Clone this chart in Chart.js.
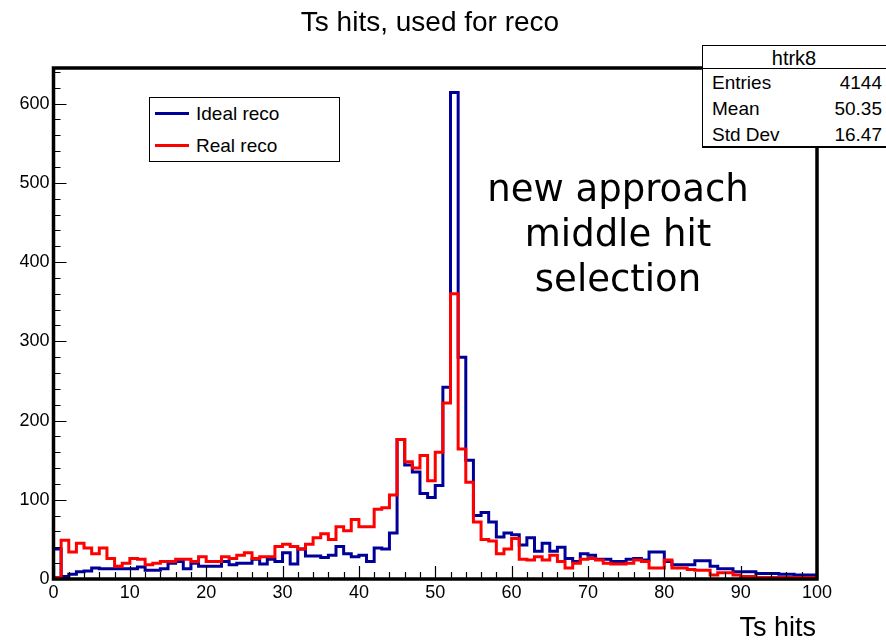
<!DOCTYPE html>
<html>
<head>
<meta charset="utf-8">
<script src="https://cdn.jsdelivr.net/npm/chart.js@4.4.1/dist/chart.umd.min.js"></script>
<style>
  body { margin: 0; background: #fff; }
  #wrap { position: relative; width: 886px; height: 643px; overflow: hidden; font-family: "Liberation Sans", Arial, sans-serif; }
  #wrap div { position: absolute; line-height: 1; white-space: nowrap; color: #000; }
  canvas { position: absolute; left: 0; top: 0; }
</style>
</head>
<body>
<div id="wrap">
  <canvas id="histChart" width="886" height="643"></canvas>

  <div style="left:0; width:860px; top:8px; font-size:28px; text-align:center;">Ts hits, used for reco</div>

  <div style="left:149px; top:97px; width:189px; height:63px; border:1px solid #000; background:#fff;"></div>
  <div style="left:155px; top:112px; width:34px; height:0; border-top:3px solid #000099;"></div>
  <div style="left:196px; top:104px; font-size:19px;">Ideal reco</div>
  <div style="left:155px; top:144px; width:34px; height:0; border-top:3px solid #ff0000;"></div>
  <div style="left:196px; top:136px; font-size:19px;">Real reco</div>

  <div style="left:702px; top:45px; width:190px; height:100px; border:1px solid #000; border-bottom-width:2px; background:#fff;"></div>
  <div style="left:702px; top:68px; width:190px; height:0; border-top:1px solid #000;"></div>
  <div style="left:702px; width:184px; top:48px; font-size:20px; text-align:center;">htrk8</div>
  <div style="left:712px; top:73px; font-size:19px;">Entries</div>
  <div style="right:4px; top:73px; font-size:19px;">4144</div>
  <div style="left:712px; top:99px; font-size:19px;">Mean</div>
  <div style="right:4px; top:99px; font-size:19px;">50.35</div>
  <div style="left:712px; top:125px; font-size:19px;">Std Dev</div>
  <div style="right:4px; top:125px; font-size:19px;">16.47</div>

  <div style="left:418px; width:400px; top:166px; font-family:'DejaVu Sans', sans-serif; font-size:37px; line-height:45px; text-align:center; white-space:normal;">new approach<br>middle hit<br>selection</div>

  <div style="right:70px; top:614px; font-size:27px;">Ts hits</div>
</div>

<script>
// 100 bins of width 1 from 0 to 100
var xMin = 0;
var xMax = 100;
var yMax = 645;

var idealReco = [
  38, 3, 6, 9, 10, 14, 13, 13, 13, 13,
  13, 15, 11, 11, 13, 20, 22, 13, 20, 16,
  16, 16, 22, 18, 20, 20, 25, 19, 25, 22,
  33, 19, 38, 29, 29, 27, 30, 41, 32, 28,
  30, 22, 39, 38, 58, 176, 144, 135, 108, 103,
  118, 242, 614, 280, 150, 80, 84, 72, 53, 58,
  56, 43, 52, 35, 45, 35, 40, 26, 22, 32,
  30, 25, 25, 22, 22, 25, 26, 24, 34, 34,
  22, 18, 18, 18, 23, 23, 16, 13, 13, 9,
  9, 9, 7, 7, 7, 6, 6, 5, 5, 5
];

var realReco = [
  2, 49, 34, 45, 39, 32, 39, 26, 16, 20,
  26, 25, 18, 20, 22, 22, 25, 25, 22, 28,
  22, 22, 28, 26, 30, 33, 26, 28, 28, 41,
  44, 41, 38, 44, 52, 57, 50, 66, 61, 75,
  66, 66, 88, 90, 106, 176, 148, 140, 156, 124,
  160, 222, 360, 164, 122, 72, 50, 48, 32, 38,
  51, 25, 24, 28, 24, 30, 22, 14, 20, 25,
  26, 24, 20, 19, 19, 20, 24, 22, 14, 14,
  24, 14, 14, 12, 11, 11, 5, 8, 8, 5,
  3, 3, 2, 2, 2, 2, 2, 2, 2, 2
];

// turn bin contents into an outline (ROOT "hist" style)
function toSteps(values) {
  var pts = [{ x: xMin, y: 0 }];
  for (var i = 0; i < values.length; i++) {
    pts.push({ x: xMin + i, y: values[i] });
  }
  pts.push({ x: xMin + values.length, y: values[values.length - 1] });
  pts.push({ x: xMin + values.length, y: 0 });
  return pts;
}

// frame with inward ticks, like a ROOT canvas
var frameTicks = {
  id: 'frameTicks',
  afterDatasetsDraw: function (chart) {
    var ctx = chart.ctx;
    var a = chart.chartArea;
    var x = chart.scales.x;
    var y = chart.scales.y;
    ctx.save();
    ctx.strokeStyle = '#000';
    ctx.lineWidth = 1.2;
    ctx.beginPath();
    for (var v = xMin; v <= xMax; v += 2) {
      var px = Math.round(x.getPixelForValue(v)) + 0.5;
      var len = v % 10 === 0 ? 13 : 7;
      ctx.moveTo(px, a.bottom);
      ctx.lineTo(px, a.bottom - len);
    }
    for (var w = 0; w <= yMax; w += 20) {
      var py = Math.round(y.getPixelForValue(w)) + 0.5;
      var len2 = w % 100 === 0 ? 13 : 7;
      ctx.moveTo(a.left, py);
      ctx.lineTo(a.left + len2, py);
    }
    ctx.stroke();
    ctx.lineWidth = 3.5;
    ctx.strokeRect(a.left, a.top, a.right - a.left, a.bottom - a.top);
    ctx.restore();
  }
};

var tickFont = { family: 'Liberation Sans', size: 18 };

var histChart = new Chart(document.getElementById('histChart'), {
  type: 'line',
  data: {
    datasets: [
      {
        label: 'Ideal reco',
        data: toSteps(idealReco),
        borderColor: 'rgb(0, 0, 153)',
        borderWidth: 3,
        stepped: true,
        pointRadius: 0,
        fill: false,
        order: 2
      },
      {
        label: 'Real reco',
        data: toSteps(realReco),
        borderColor: 'rgb(255, 0, 0)',
        borderWidth: 3,
        stepped: true,
        pointRadius: 0,
        fill: false,
        order: 1
      }
    ]
  },
  options: {
    responsive: false,
    animation: false,
    events: [],
    layout: { padding: { top: 68, right: 69, left: 0, bottom: 0 } },
    plugins: {
      legend: { display: false },
      tooltip: { enabled: false }
    },
    scales: {
      x: {
        type: 'linear',
        min: xMin,
        max: xMax,
        grid: { display: false, drawTicks: false },
        border: { display: false },
        ticks: {
          stepSize: 10,
          autoSkip: false,
          maxRotation: 0,
          includeBounds: false,
          padding: 3,
          color: '#000',
          font: tickFont
        },
        afterFit: function (scale) { scale.height = 64; }
      },
      y: {
        type: 'linear',
        min: 0,
        max: yMax,
        grid: { display: false, drawTicks: false },
        border: { display: false },
        ticks: {
          stepSize: 100,
          includeBounds: false,
          padding: 4,
          color: '#000',
          font: tickFont,
          callback: function (v) { return v % 100 === 0 ? v : ''; }
        },
        afterFit: function (scale) { scale.width = 53.5; }
      }
    }
  },
  plugins: [frameTicks]
});
</script>
</body>
</html>
